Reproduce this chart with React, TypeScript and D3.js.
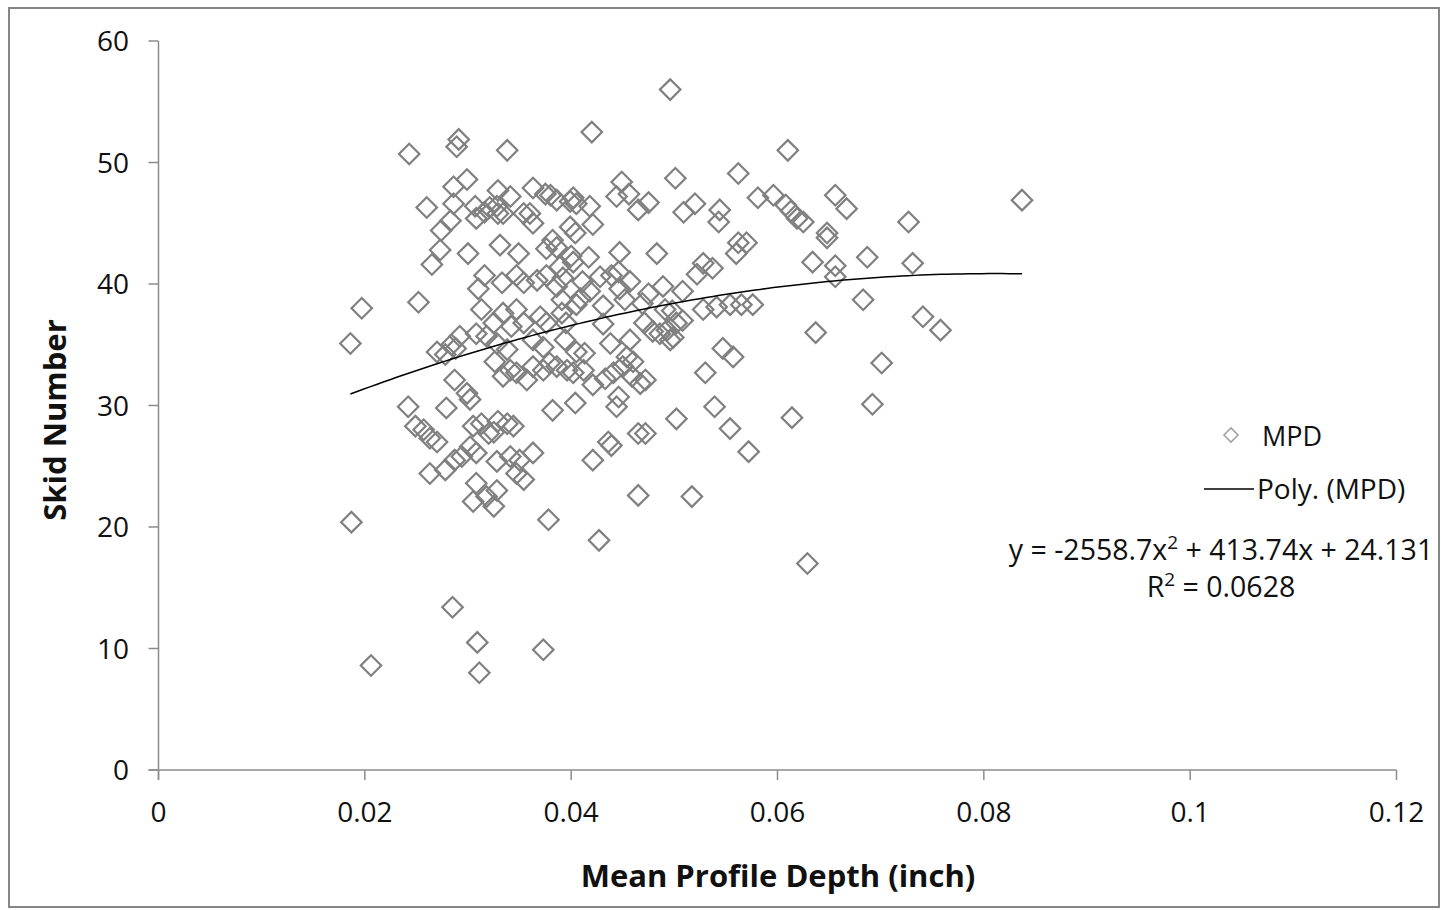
import * as d3 from "d3";

// MPD (inch) vs skid number
const mpd = [
  0.0186, 0.0197, 0.0187, 0.0206, 0.0243, 0.0252, 0.0242, 0.0249, 0.0257, 0.0260,
  0.0265, 0.0270, 0.0263, 0.0270, 0.0263, 0.0273, 0.0274, 0.0278, 0.0279, 0.0278,
  0.0283, 0.0286, 0.0291, 0.0289, 0.0286, 0.0285, 0.0287, 0.0287, 0.0284, 0.0292,
  0.0288, 0.0299, 0.0302, 0.0299, 0.0300, 0.0294, 0.0302, 0.0308, 0.0305, 0.0308,
  0.0309, 0.0311, 0.0307, 0.0308, 0.0316, 0.0310, 0.0313, 0.0308, 0.0316, 0.0318,
  0.0305, 0.0313, 0.0320, 0.0318, 0.0325, 0.0321, 0.0328, 0.0329, 0.0334, 0.0329,
  0.0331, 0.0333, 0.0325, 0.0328, 0.0326, 0.0334, 0.0329, 0.0325, 0.0328, 0.0328,
  0.0338, 0.0341, 0.0334, 0.0342, 0.0338, 0.0341, 0.0347, 0.0338, 0.0344, 0.0341,
  0.0347, 0.0349, 0.0347, 0.0354, 0.0347, 0.0354, 0.0357, 0.0350, 0.0354, 0.0354,
  0.0360, 0.0363, 0.0363, 0.0367, 0.0370, 0.0363, 0.0363, 0.0363, 0.0373, 0.0376,
  0.0376, 0.0373, 0.0373, 0.0375, 0.0376, 0.0378, 0.0379, 0.0382, 0.0380, 0.0386,
  0.0382, 0.0386, 0.0389, 0.0392, 0.0386, 0.0391, 0.0391, 0.0395, 0.0394, 0.0386,
  0.0396, 0.0399, 0.0402, 0.0405, 0.0399, 0.0404, 0.0400, 0.0402, 0.0402, 0.0404,
  0.0405, 0.0405, 0.0409, 0.0411, 0.0412, 0.0413, 0.0418, 0.0421, 0.0417, 0.0418,
  0.0420, 0.0421, 0.0421, 0.0427, 0.0428, 0.0431, 0.0431, 0.0433, 0.0436, 0.0439,
  0.0438, 0.0441, 0.0439, 0.0446, 0.0447, 0.0444, 0.0449, 0.0456, 0.0444, 0.0446,
  0.0447, 0.0452, 0.0450, 0.0454, 0.0457, 0.0460, 0.0459, 0.0457, 0.0465, 0.0475,
  0.0465, 0.0465, 0.0472, 0.0467, 0.0472, 0.0469, 0.0471, 0.0475, 0.0479, 0.0483,
  0.0486, 0.0489, 0.0491, 0.0493, 0.0496, 0.0499, 0.0498, 0.0496, 0.0501, 0.0502,
  0.0502, 0.0508, 0.0508, 0.0509, 0.0517, 0.0520, 0.0522, 0.0528, 0.0537, 0.0528,
  0.0530, 0.0539, 0.0543, 0.0544, 0.0547, 0.0541, 0.0554, 0.0557, 0.0554, 0.0560,
  0.0562, 0.0565, 0.0562, 0.0570, 0.0576, 0.0572, 0.0581, 0.0596, 0.0610, 0.0608,
  0.0613, 0.0619, 0.0625, 0.0614, 0.0634, 0.0637, 0.0629, 0.0648, 0.0648, 0.0656,
  0.0656, 0.0656, 0.0667, 0.0683, 0.0687, 0.0692, 0.0701, 0.0727, 0.0731, 0.0741,
  0.0758, 0.0837,
];

const skid = [
  35.1, 38.0, 20.4, 8.6, 50.7, 38.5, 29.9, 28.3, 28.0, 46.3,
  41.6, 34.4, 27.3, 27.0, 24.4, 42.8, 44.4, 34.2, 29.8, 24.7,
  45.2, 48.0, 51.9, 51.3, 46.6, 13.4, 32.1, 25.5, 35.0, 35.7,
  34.7, 31.0, 30.5, 48.6, 42.5, 25.8, 26.6, 26.1, 22.1, 23.6,
  10.5, 8.0, 46.4, 45.4, 45.9, 39.6, 37.9, 35.9, 40.7, 35.7,
  28.3, 28.5, 27.7, 22.5, 21.7, 46.3, 46.4, 45.8, 45.8, 47.7,
  43.2, 40.1, 36.8, 35.1, 33.6, 32.4, 28.7, 27.8, 25.4, 23.0,
  51.0, 47.2, 37.6, 36.5, 34.6, 32.9, 32.7, 28.5, 28.3, 25.8,
  24.4, 42.5, 40.7, 40.1, 37.9, 36.8, 32.1, 25.5, 23.9, 45.8,
  45.8, 45.0, 47.9, 40.3, 37.3, 35.4, 33.2, 26.1, 9.9, 40.7,
  36.8, 34.8, 32.9, 47.4, 42.9, 20.6, 33.5, 29.6, 47.3, 46.9,
  43.6, 43.0, 41.4, 40.5, 39.8, 38.7, 37.6, 36.8, 35.4, 33.2,
  32.9, 46.8, 47.1, 46.6, 44.7, 44.2, 42.3, 41.8, 32.7, 30.2,
  34.4, 38.3, 38.8, 40.2, 32.9, 34.3, 46.4, 44.9, 42.2, 39.4,
  52.5, 25.5, 31.7, 18.9, 40.6, 38.2, 36.7, 32.2, 27.0, 26.7,
  35.1, 32.7, 40.7, 41.0, 42.6, 47.2, 48.4, 47.4, 29.9, 30.7,
  39.6, 38.7, 33.2, 34.0, 35.4, 33.6, 32.4, 40.2, 46.1, 46.7,
  22.6, 27.7, 27.7, 31.8, 32.1, 38.4, 36.8, 39.2, 36.1, 42.5,
  35.9, 39.8, 37.9, 36.2, 35.4, 35.6, 37.8, 56.0, 48.7, 36.8,
  28.9, 37.0, 39.4, 45.9, 22.5, 46.6, 40.8, 41.7, 41.3, 37.9,
  32.7, 29.9, 45.1, 46.1, 34.7, 38.1, 38.3, 34.0, 28.1, 42.5,
  43.4, 38.3, 49.1, 43.4, 38.3, 26.2, 47.1, 47.3, 51.0, 46.5,
  46.0, 45.4, 45.1, 29.0, 41.8, 36.0, 17.0, 44.2, 43.8, 47.3,
  41.5, 40.6, 46.2, 38.7, 42.2, 30.1, 33.5, 45.1, 41.7, 37.3,
  36.2, 46.9,
];

// polynomial trendline coefficients shown on the chart
const polyCoef = [24.131, 413.74, -2558.7];

const xTicks = [0, 0.02, 0.04, 0.06, 0.08, 0.1, 0.12];
const xTickLabels = ["0", "0.02", "0.04", "0.06", "0.08", "0.1", "0.12"];
const yTicks = [0, 10, 20, 30, 40, 50, 60];

const W = 1441;
const H = 910;
const FONT = "'Open Sans', 'Noto Sans', sans-serif";
const AXIS = "#8c8c8c";
const MARK = "#808080";

const x = d3.scaleLinear().domain([0, 0.12]).range([158.5, 1396.5]);
const y = d3.scaleLinear().domain([0, 60]).range([770, 41]);

const diamond = d3.symbol(d3.symbolSquare, 210)();

function App() {
  const pts = mpd.map((v, i) => [v, skid[i]]);
  const [x0, x1] = d3.extent(mpd);
  const fit = d3.range(0, 101).map((i) => {
    const xv = x0 + ((x1 - x0) * i) / 100;
    return [xv, polyCoef[0] + polyCoef[1] * xv + polyCoef[2] * xv * xv];
  });
  const line = d3
    .line()
    .x((d) => x(d[0]))
    .y((d) => y(d[1]));

  return (
    <svg
      width={W}
      height={H}
      style={{ position: "absolute", left: 0, top: 0, background: "#fff" }}
      fontFamily={FONT}
    >
      <rect x={9} y={8} width={1430} height={899} fill="#fff" stroke="#868686" strokeWidth={2} />

      {/* axes */}
      <line x1={x(0)} x2={x(0)} y1={y(60)} y2={y(0) + 10} stroke={AXIS} strokeWidth={1.5} />
      <line x1={x(0) - 10} x2={x(0.12)} y1={y(0)} y2={y(0)} stroke={AXIS} strokeWidth={1.5} />
      {yTicks.map((t) => (
        <g key={`yt-${t}`}>
          <line x1={x(0) - 10} x2={x(0)} y1={y(t)} y2={y(t)} stroke={AXIS} strokeWidth={1.5} />
          <text x={129} y={y(t) + 10} textAnchor="end" fontSize={28} fill="#111">
            {t}
          </text>
        </g>
      ))}
      {xTicks.map((t, i) => (
        <g key={`xt-${i}`}>
          <line x1={x(t)} x2={x(t)} y1={y(0)} y2={y(0) + 10} stroke={AXIS} strokeWidth={1.5} />
          <text x={x(t)} y={822} textAnchor="middle" fontSize={28} fill="#111">
            {xTickLabels[i]}
          </text>
        </g>
      ))}

      <text
        transform="translate(66,420) rotate(-90)"
        textAnchor="middle"
        fontSize={31}
        fontWeight="bold"
        fill="#111"
      >
        Skid Number
      </text>
      <text x={778} y={887} textAnchor="middle" fontSize={31} fontWeight="bold" fill="#111">
        Mean Profile Depth (inch)
      </text>

      {/* points */}
      {pts.map((d, i) => (
        <path
          key={`p-${i}`}
          d={diamond}
          transform={`translate(${x(d[0])},${y(d[1])}) rotate(45)`}
          fill="none"
          stroke={MARK}
          strokeWidth={2.2}
        />
      ))}

      <path d={line(fit)} fill="none" stroke="#000" strokeWidth={1.5} />

      {/* legend */}
      <path
        d={d3.symbol(d3.symbolSquare, 100)()}
        transform="translate(1231,435) rotate(45)"
        fill="none"
        stroke="#a0a0a0"
        strokeWidth={1.5}
      />
      <text x={1262} y={446} fontSize={27} fill="#111">
        MPD
      </text>
      <line x1={1204} x2={1254} y1={489} y2={489} stroke="#000" strokeWidth={1.5} />
      <text x={1257} y={499} fontSize={28} fill="#111">
        Poly. (MPD)
      </text>
      <text x={1221} y={560} textAnchor="middle" fontSize={28.5} fill="#111">
        y = -2558.7x<tspan dy={-11} fontSize={19}>2</tspan>
        <tspan dy={11}> + 413.74x + 24.131</tspan>
      </text>
      <text x={1221} y={597} textAnchor="middle" fontSize={28.5} fill="#111">
        R<tspan dy={-11} fontSize={19}>2</tspan>
        <tspan dy={11}> = 0.0628</tspan>
      </text>
    </svg>
  );
}

export default App;
